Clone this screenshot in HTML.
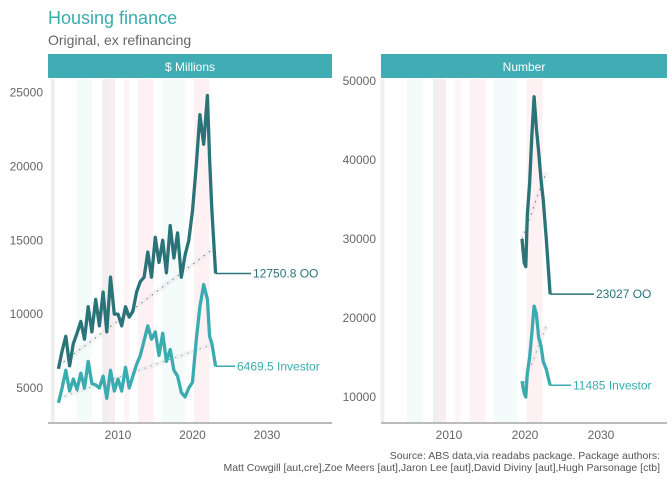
<!DOCTYPE html>
<html><head><meta charset="utf-8">
<style>
body{margin:0;background:#fff;font-family:"Liberation Sans",sans-serif;}
svg text{font-family:"Liberation Sans",sans-serif;}
</style></head>
<body>
<svg id="chart" width="672" height="480" xmlns="http://www.w3.org/2000/svg">
<text x="48" y="24" font-size="18" fill="#3aacb0">Housing finance</text>
<text x="48" y="45" font-size="14" fill="#666">Original, ex refinancing</text>
<rect x="48" y="54" width="284" height="24" fill="#3fadb3"/>
<text x="190" y="71" font-size="12" fill="#fff" text-anchor="middle">$ Millions</text>
<rect x="381" y="54" width="286" height="24" fill="#3fadb3"/>
<text x="524" y="71" font-size="12" fill="#fff" text-anchor="middle">Number</text>
<g id="p1"></g>
<g id="p2"></g>
<text x="660" y="459" font-size="10.5" fill="#555" text-anchor="end">Source: ABS data,via readabs package. Package authors:</text>
<text x="660" y="471" font-size="10.5" fill="#555" text-anchor="end">Matt Cowgill [aut,cre],Zoe Meers [aut],Jaron Lee [aut],David Diviny [aut],Hugh Parsonage [ctb]</text>
</svg>
<script>
const bandStart=[2001.0,2004.4,2007.9,2008.7,2010.8,2012.7,2015.9,2020.2];
const bandEnd=[2001.5,2006.5,2008.7,2009.6,2011.5,2014.8,2019.0,2022.3];
const bandColor=["#efefef","#f3fcfb","#f0eeee","#f8eef0","#fef3f5","#fef1f3","#f3fcfb","#fef1f3"];
const xTicks=[2010,2020,2030];
const yTicks1=[5000,10000,15000,20000,25000];
const yTicks2=[10000,20000,30000,40000,50000];
const years1=[2002,2002.5,2003,2003.5,2004,2004.5,2005,2005.5,2006,2006.5,2007,2007.5,2008,2008.5,2009,2009.5,2010,2010.5,2011,2011.5,2012,2012.5,2013,2013.5,2014,2014.5,2015,2015.5,2016,2016.5,2017,2017.5,2018,2018.5,2019,2019.5,2020,2020.5,2021,2021.5,2022,2022.3,2022.6,2023.1];
const ooMillions=[6300,7500,8500,6500,8000,8700,9500,8300,10500,8800,11000,9200,11500,8800,12500,10000,10000,9200,10500,9800,10200,11500,12200,12500,14200,12500,15200,13500,15000,12800,16000,13800,15500,12500,14000,15000,17000,20000,23500,21500,24800,20500,17000,12750.8];
const invMillions=[4000,5000,6200,4800,5600,4900,6000,5000,6800,5300,5200,5000,5800,4300,6200,4800,5600,4800,6400,5000,5800,6600,7200,8200,9200,8300,8800,7200,8700,6800,7600,6200,5800,4700,4400,5000,5400,8200,10500,12000,11000,8500,8000,6469.5];
const trend1Years=[2002,2023];
const trend1OO=[6500,14500];
const trend1Inv=[4300,8000];
const years2=[2019.6,2019.9,2020.1,2020.3,2020.6,2020.9,2021.2,2021.5,2021.8,2022.1,2022.4,2022.8,2023.3];
const ooNumber=[30000,27000,26500,33000,37000,43000,48000,44000,41000,37500,35000,30000,23027];
const invNumber=[12000,10500,10000,13000,15000,18000,21500,20500,17500,16500,14500,13500,11485];
const trend2Years=[2019.6,2022.8];
const trend2OO=[30000,38500];
const trend2Inv=[11000,19000];

const NS="http://www.w3.org/2000/svg";
function mk(g,tag,attrs,name){const e=document.createElementNS(NS,tag);for(const k in attrs)e.setAttribute(k,attrs[k]);


g.appendChild(e);return e;}
function panel(g,x0,x1,xs,ys,yTicks,series,trends,labels,top,bottom){
  for(let i=0;i<bandStart.length;i++){const a=xs(bandStart[i]),b=xs(bandEnd[i]);
    mk(g,'rect',{x:a,y:top,width:b-a,height:bottom-top,fill:bandColor[i]},'recession-band');}
  mk(g,'line',{x1:x0,x2:x1,y1:bottom+1,y2:bottom+1,stroke:'#777','stroke-width':1},'x-axis-line');
  xTicks.forEach(t=>{const tx=mk(g,'text',{x:xs(t),y:bottom+17,'font-size':12,fill:'#666','text-anchor':'middle'},'x-tick-label');tx.textContent=t;});
  yTicks.forEach(t=>{const tx=mk(g,'text',{x:x0-5,y:ys(t)+4,'font-size':12,fill:'#666','text-anchor':'end'},'y-tick-label');tx.textContent=t;});
  trends.forEach(tr=>{
    mk(g,'line',{x1:xs(tr.x[0]),x2:xs(tr.x[1]),y1:ys(tr.y[0]),y2:ys(tr.y[1]),stroke:'#efe8e8','stroke-width':5,opacity:0.5},'trend-ribbon');
    mk(g,'line',{x1:xs(tr.x[0]),x2:xs(tr.x[1]),y1:ys(tr.y[0]),y2:ys(tr.y[1]),stroke:tr.c,'stroke-width':0.8,'stroke-dasharray':'1.5 5'},'trend-line');});
  series.forEach((s,k)=>{
    const d=s.x.map((x,i)=>(i?'L':'M')+xs(x).toFixed(1)+','+ys(s.y[i]).toFixed(1)).join('');
    mk(g,'path',{d:d,fill:'none',stroke:s.c,'stroke-width':3.3,'stroke-linejoin':'round'},s.name);
    const lx=xs(s.x[s.x.length-1]),ly=ys(s.y[s.y.length-1]),l=labels[k];
    mk(g,'line',{x1:lx,x2:l.x-2,y1:ly,y2:ly,stroke:s.c,'stroke-width':1.5},'label-connector');
    const t=mk(g,'text',{x:l.x,y:ly+4,'font-size':12,fill:s.c},'end-label');t.textContent=l.t;});
}
const xs1=y=>118+(y-2010)*7.45, ys1=v=>388-(v-5000)*0.014775;
panel(document.getElementById('p1'),48,332,xs1,ys1,yTicks1,
 [{x:years1,y:ooMillions,c:'#2a7378',name:'line-oo-millions'},{x:years1,y:invMillions,c:'#3aacb0',name:'line-investor-millions'}],
 [{x:trend1Years,y:trend1OO,c:'#2a7378'},{x:trend1Years,y:trend1Inv,c:'#3aacb0'}],
 [{x:253,t:'12750.8 OO'},{x:237,t:'6469.5 Investor'}],79,422);
const xs2=y=>525+(y-2020)*7.6, ys2=v=>397-(v-10000)*0.0079;
panel(document.getElementById('p2'),381,667,xs2,ys2,yTicks2,
 [{x:years2,y:ooNumber,c:'#2a7378',name:'line-oo-number'},{x:years2,y:invNumber,c:'#3aacb0',name:'line-investor-number'}],
 [{x:trend2Years,y:trend2OO,c:'#2a7378'},{x:trend2Years,y:trend2Inv,c:'#3aacb0'}],
 [{x:596,t:'23027 OO'},{x:573,t:'11485 Investor'}],79,422);
</script>
</body></html>
